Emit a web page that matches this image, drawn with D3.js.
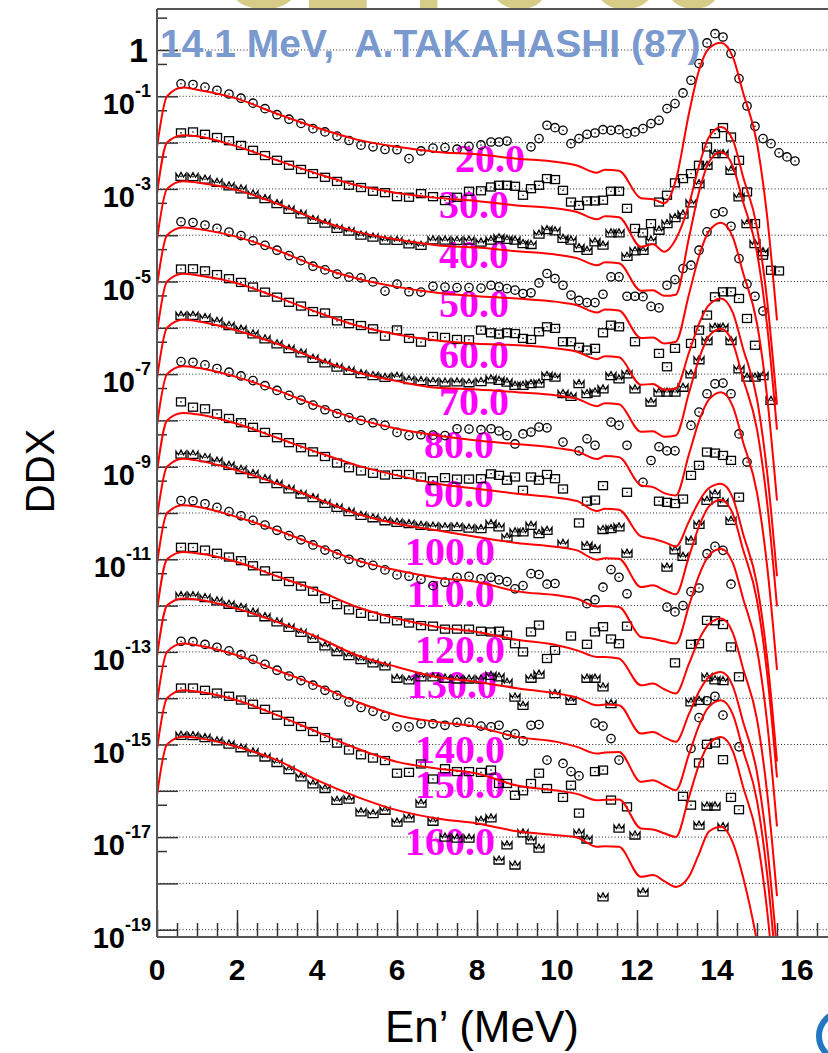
<!DOCTYPE html>
<html>
<head>
<meta charset="utf-8">
<script src="https://cdn.jsdelivr.net/npm/d3@7"></script>
<style>
  body { margin: 0; background: #fff; }
  svg { display: block; }
</style>
</head>
<body>
<svg id="chart" width="828" height="1053"></svg>
<script>
// scattering angles (deg) and the offset factor used to stack the curves
const angles = [20, 30, 40, 50, 60, 70, 80, 90, 100, 110, 120, 130, 140, 150, 160];
const offsets = [1, 1e-1, 1e-2, 1e-3, 1e-4, 1e-5, 1e-6, 1e-7, 1e-8, 1e-9, 1e-10, 1e-11, 1e-12, 1e-13, 1e-14];

// calculation (red lines), unscaled DDX
const calcEnergy = [0, 0.25, 0.65, 1, 2, 3, 4, 5, 6, 7, 8, 9, 10, 10.5, 11.0, 11.2, 11.55, 12.1, 12.4, 12.68, 12.97, 13.3, 13.55, 13.8, 14.1, 14.4, 14.65, 15.0, 15.25, 15.5];
const calc20 = [0.0079, 0.1, 0.155, 0.139, 0.089, 0.042, 0.021, 0.0116, 0.0081, 0.0063, 0.0056, 0.0045, 0.0038, 0.0032, 0.00224, 0.0026, 0.00248, 0.00063, 0.0006, 0.00049, 0.00153, 0.043, 0.365, 1.09, 1.44, 0.695, 0.122, 0.0097, 0.00027, 1.45e-6];
const calc30 = [0.0079, 0.1, 0.144, 0.137, 0.083, 0.0415, 0.0214, 0.012, 0.0082, 0.0064, 0.0055, 0.0044, 0.00376, 0.00318, 0.00221, 0.00256, 0.00244, 0.00056, 0.00064, 0.00044, 0.00082, 0.00466, 0.0313, 0.132, 0.218, 0.112, 0.0185, 0.00146, 4.1e-5, 2.2e-7];
const calc40 = [0.0079, 0.1, 0.147, 0.137, 0.094, 0.0482, 0.0218, 0.0118, 0.0081, 0.0061, 0.0054, 0.0045, 0.0038, 0.0032, 0.00224, 0.0026, 0.00248, 0.00063, 0.00065, 0.00049, 0.00052, 0.0089, 0.086, 0.383, 0.63, 0.303, 0.0532, 0.0042, 0.000117, 6.3e-7];
const calc50 = [0.0079, 0.1, 0.147, 0.137, 0.092, 0.0474, 0.0214, 0.0116, 0.00766, 0.00569, 0.00482, 0.00429, 0.00363, 0.00308, 0.00214, 0.00248, 0.00236, 0.0006, 0.00062, 0.00046, 0.0005, 0.00532, 0.0352, 0.122, 0.185, 0.089, 0.0156, 0.00124, 3.4e-5, 1.86e-7];
const calc60 = [0.0079, 0.1, 0.147, 0.137, 0.092, 0.0459, 0.0218, 0.0112, 0.00716, 0.00532, 0.00451, 0.00422, 0.00357, 0.00303, 0.0021, 0.00244, 0.00232, 0.00059, 0.00061, 0.00046, 0.00049, 0.00293, 0.0122, 0.0313, 0.043, 0.0207, 0.00363, 0.000288, 8.0e-6, 4.3e-8];
const calc70 = [0.0079, 0.1, 0.149, 0.139, 0.0875, 0.0451, 0.0214, 0.011, 0.00705, 0.00506, 0.00466, 0.00407, 0.00346, 0.00293, 0.00203, 0.00236, 0.00224, 0.000568, 0.000586, 0.000443, 0.000473, 0.00394, 0.0214, 0.066, 0.095, 0.0459, 0.00805, 0.00064, 1.77e-5, 9.6e-8];
const calc80 = [0.0079, 0.1, 0.147, 0.137, 0.0861, 0.0444, 0.021, 0.0108, 0.00659, 0.00473, 0.00369, 0.00308, 0.00252, 0.00214, 0.00146, 0.0017, 0.00161, 0.000394, 0.000362, 0.000269, 0.000239, 0.00187, 0.00966, 0.0284, 0.0408, 0.0197, 0.00346, 0.000274, 7.6e-6, 4.1e-8];
const calc90 = [0.0079, 0.1, 0.144, 0.135, 0.0847, 0.0423, 0.0207, 0.0107, 0.00649, 0.00429, 0.00334, 0.00261, 0.00214, 0.00181, 0.0011, 0.00124, 0.00118, 0.000313, 0.000278, 0.000235, 0.00019, 0.00066, 0.00178, 0.00346, 0.00429, 0.00207, 0.000362, 2.87e-5, 8.0e-7, 4.3e-9];
const calc100 = [0.0079, 0.1, 0.149, 0.137, 0.0834, 0.043, 0.0204, 0.00966, 0.00587, 0.00422, 0.00303, 0.00224, 0.00184, 0.00156, 0.00098, 0.00106, 0.00103, 0.000252, 0.000274, 0.000217, 0.000175, 0.00116, 0.00514, 0.0139, 0.0194, 0.00933, 0.00164, 0.00013, 3.6e-6, 1.95e-8];
const calc110 = [0.0079, 0.1, 0.147, 0.137, 0.082, 0.0423, 0.02, 0.0095, 0.00578, 0.00401, 0.00324, 0.00203, 0.00167, 0.00141, 0.00096, 0.00098, 0.00093, 0.00021, 0.000193, 0.000169, 0.000151, 0.000998, 0.00451, 0.0122, 0.017, 0.00818, 0.00144, 0.000114, 3.2e-6, 1.7e-8];
const calc120 = [0.0079, 0.1, 0.144, 0.135, 0.0875, 0.043, 0.0214, 0.00933, 0.00524, 0.00346, 0.0027, 0.00184, 0.00139, 0.00108, 0.00078, 0.00078, 0.00072, 0.00019, 0.000207, 0.000156, 0.000126, 0.000558, 0.00184, 0.00401, 0.00524, 0.00252, 0.000443, 3.5e-5, 9.7e-7, 5.3e-9];
const calc130 = [0.0079, 0.1, 0.142, 0.135, 0.0861, 0.0444, 0.021, 0.00845, 0.00473, 0.00288, 0.00224, 0.00164, 0.00126, 0.00103, 0.000703, 0.000728, 0.000703, 0.000172, 0.000187, 0.000143, 0.000114, 0.000457, 0.00139, 0.00288, 0.00369, 0.00178, 0.000313, 2.47e-5, 6.9e-7, 3.7e-9];
const calc140 = [0.0079, 0.1, 0.151, 0.139, 0.0847, 0.0402, 0.019, 0.00832, 0.00429, 0.00308, 0.0024, 0.00146, 0.00114, 0.000887, 0.000637, 0.00067, 0.000692, 0.000156, 0.000169, 0.000132, 0.000103, 0.000617, 0.00256, 0.00659, 0.00904, 0.00436, 0.000764, 6.05e-5, 1.69e-6, 9.1e-9];
const calc150 = [0.0079, 0.1, 0.149, 0.139, 0.0906, 0.043, 0.0188, 0.00818, 0.00422, 0.00303, 0.00236, 0.0013, 0.00101, 0.000859, 0.000627, 0.000637, 0.000647, 0.000153, 0.000146, 0.000121, 0.000101, 0.00074, 0.00363, 0.0103, 0.0146, 0.00705, 0.00124, 9.8e-5, 2.73e-6, 1.47e-8];
const calc160 = [0.0079, 0.1, 0.147, 0.139, 0.0891, 0.0459, 0.017, 0.00741, 0.00382, 0.00252, 0.00197, 0.00134, 0.0011, 0.00098, 0.000617, 0.000637, 0.000617, 0.000139, 0.000151, 0.000112, 8.4e-5, 0.000141, 0.000436, 0.00132, 0.00167, 0.00074, 0.000139, 5.6e-6, 3.1e-7, 1.7e-9];

// measurement (A.TAKAHASHI 87), unscaled DDX, null = no point
const expEnergy = [0.6, 0.9, 1.2, 1.5, 1.8, 2.1, 2.4, 2.7, 3.0, 3.3, 3.6, 3.9, 4.2, 4.5, 4.8, 5.1, 5.4, 5.7, 6.0, 6.3, 6.6, 6.9, 7.2, 7.5, 7.8, 8.1,
  8.35, 8.55, 8.75, 8.95, 9.15, 9.35, 9.55, 9.75, 9.95, 10.15, 10.35, 10.55, 10.75, 10.95, 11.15, 11.35, 11.55, 11.75, 11.95, 12.15, 12.35, 12.55, 12.75, 12.95,
  13.15, 13.35, 13.55, 13.75, 13.95, 14.15, 14.35, 14.55, 14.75, 14.95, 15.15, 15.35, 15.55, 15.75, 15.95];
const exp20 = [0.186, 0.18, 0.158, 0.135, 0.112, 0.091, 0.071, 0.054, 0.04, 0.032, 0.026, 0.02, 0.017, 0.0138, 0.0111, 0.0088, 0.0081, 0.0071, 0.007, 0.0045, 0.0066, 0.0076, 0.0078, 0.0072, 0.0083, 0.0089,
  0.0103, 0.0103, 0.0108, null, null, 0.0081, 0.0122, 0.0237, 0.021, 0.0184, 0.0095, 0.0122, 0.0151, 0.0161, 0.019, 0.0184, 0.019, 0.0156, 0.017, 0.02, 0.0257, 0.0303, 0.0542, 0.0695,
  0.118, 0.222, 0.508, 1.42, 2.25, 1.91, 0.836, 0.241, 0.0618, 0.0225, 0.0122, 0.0095, 0.006, 0.0049, 0.004];
const exp30 = [0.162, 0.17, 0.151, 0.129, 0.11, 0.087, 0.068, 0.0525, 0.0415, 0.0324, 0.0263, 0.0214, 0.0178, 0.0145, 0.012, 0.0107, 0.0089, 0.0083, 0.0068, 0.0066, 0.0079, 0.0068, 0.0056, 0.0066, 0.0089, 0.0091,
  0.011, 0.012, 0.012, 0.0114, 0.0073, 0.0101, 0.012, 0.0167, 0.0159, 0.0093, 0.0052, 0.0044, 0.0055, 0.0055, 0.0057, 0.0089, 0.0089, 0.0038, 0.0014, 0.00112, 0.00178, 0.0052, 0.0073, 0.0135,
  0.0167, 0.0214, 0.0324, 0.0805, 0.156, 0.211, 0.132, 0.0415, 0.0086, 0.00178, 0.00037, 0.000175, 0.000169, null, null];
const exp40 = [0.186, 0.184, 0.162, 0.138, 0.116, 0.1, 0.0776, 0.0617, 0.0482, 0.0363, 0.0288, 0.0219, 0.0182, 0.0141, 0.0123, 0.01, 0.0091, 0.0078, 0.0077, 0.0065, 0.006, 0.0079, 0.0078, 0.0077, 0.0078, 0.0071,
  0.0078, 0.0088, 0.0081, 0.0078, 0.0066, 0.0063, 0.0105, 0.0132, 0.0124, 0.0085, 0.0078, 0.0054, 0.0047, 0.0072, 0.0061, 0.0112, 0.0112, 0.0035, 0.0046, 0.0047, 0.0078, 0.0128, 0.0178, 0.024,
  0.0284, 0.0499, 0.13, 0.324, 0.579, 0.579, 0.253, 0.0672, 0.0178, 0.0066, 0.0044, null, null, null, null];
const exp50 = [0.195, 0.188, 0.166, 0.141, 0.117, 0.098, 0.0759, 0.0603, 0.0474, 0.0363, 0.0282, 0.0214, 0.0178, 0.0145, 0.0124, 0.012, 0.0098, 0.0062, 0.0088, 0.006, 0.0059, 0.0079, 0.0076, 0.0074, 0.0074, 0.0072,
  0.0083, 0.0077, 0.007, 0.0065, 0.0055, 0.0057, 0.0093, 0.0149, 0.0116, 0.0083, 0.0051, 0.0039, 0.0035, 0.0035, 0.0053, 0.0126, 0.0126, 0.0048, 0.0048, 0.0047, 0.0029, 0.0027, 0.0083, 0.011,
  0.019, 0.0225, 0.0474, 0.118, 0.294, 0.319, 0.156, 0.0313, 0.0088, 0.0048, 0.0023, null, null, null, null];
const exp60 = [0.186, 0.188, 0.17, 0.141, 0.115, 0.0955, 0.0759, 0.0589, 0.0459, 0.0355, 0.0295, 0.0224, 0.0209, 0.0141, 0.0123, 0.0112, 0.0095, 0.0066, 0.009, 0.0059, 0.0049, 0.0065, 0.0062, 0.0056, 0.0055, 0.0089,
  0.0078, 0.0073, 0.0078, 0.0075, 0.0059, 0.0056, 0.0082, 0.0105, 0.0097, 0.005, 0.005, 0.0038, 0.0033, 0.0036, 0.0078, 0.0114, 0.0105, null, 0.005, null, null, 0.0028, 0.00144, 0.0036,
  null, 0.0046, 0.0089, 0.0188, 0.0467, 0.0598, 0.0598, 0.043, 0.0159, 0.0042, null, null, null, null, null];
const exp70 = [0.186, 0.186, 0.166, 0.138, 0.112, 0.0933, 0.0741, 0.0575, 0.0451, 0.0355, 0.0288, 0.0219, 0.0174, 0.0141, 0.012, 0.0102, 0.0093, 0.0085, 0.0089, 0.0076, 0.0072, 0.0069, 0.0067, 0.0068, 0.0065, 0.0069,
  0.0079, 0.0073, 0.0067, 0.0057, 0.0057, 0.0062, 0.0064, 0.0093, 0.0086, 0.0038, 0.0033, 0.0062, 0.0038, 0.0041, 0.0048, 0.0093, 0.0079, 0.0101, 0.0048, null, 0.0025, 0.0041, 0.0041, 0.0041,
  0.0052, 0.0101, 0.0204, 0.0532, 0.103, 0.103, 0.0532, 0.013, 0.0086, 0.0086, 0.0093, 0.0027, null, null, null];
const exp80 = [0.186, 0.18, 0.158, 0.132, 0.11, 0.0912, 0.0724, 0.0562, 0.0444, 0.0347, 0.0275, 0.0214, 0.017, 0.0141, 0.0115, 0.01, 0.0089, 0.0078, 0.0055, 0.0047, 0.0049, 0.0048, 0.0047, 0.0066, 0.0065, 0.0063,
  0.0066, 0.0059, 0.0047, 0.0031, 0.0051, 0.0056, 0.0072, 0.0069, null, 0.0034, null, 0.0022, 0.004, 0.0029, null, 0.0092, 0.0078, 0.0029, null, 0.00046, 0.00136, 0.0027, 0.0022, 0.0022,
  null, 0.0078, 0.0151, 0.0376, 0.0618, 0.064, 0.0376, 0.0051, 0.00126, null, null, null, null, null, null];
const exp90 = [0.251, 0.193, 0.178, 0.138, 0.11, 0.0891, 0.0708, 0.055, 0.0423, 0.0331, 0.0257, 0.0209, 0.0166, 0.012, 0.0095, 0.0081, 0.0072, 0.0066, 0.0068, 0.0068, 0.006, 0.005, 0.0058, 0.0054, 0.0054, 0.0055,
  0.007, 0.0065, 0.0051, 0.006, 0.0031, 0.006, 0.0051, 0.0068, 0.0055, 0.0033, null, 0.00061, 0.0018, 0.0019, 0.0039, null, null, 0.0028, null, null, null, 0.0018, 0.0017, 0.0016,
  0.002, 0.0065, 0.0107, 0.0207, 0.0197, 0.0175, 0.0137, 0.0022, null, null, null, null, null, null, null];
const exp100 = [0.186, 0.184, 0.158, 0.132, 0.107, 0.0871, 0.0708, 0.055, 0.043, 0.0331, 0.0257, 0.0214, 0.0162, 0.0132, 0.0107, 0.0089, 0.0079, 0.0068, 0.0063, 0.0059, 0.0054, 0.0052, 0.005, 0.0051, 0.0047, 0.0046,
  0.0059, 0.005, 0.003, 0.0039, 0.0039, 0.0054, 0.0036, 0.0042, null, 0.0022, null, null, 0.002, 0.0017, 0.0044, 0.0046, 0.005, 0.00136, null, null, null, null, 0.00068, 0.0016,
  0.00116, 0.0026, 0.0057, 0.0188, 0.0261, 0.0173, 0.0069, null, null, null, null, null, null, null, null];
const exp110 = [0.186, 0.184, 0.158, 0.132, 0.107, 0.0871, 0.0692, 0.055, 0.0423, 0.0324, 0.0263, 0.0204, 0.0158, 0.0129, 0.01, 0.0085, 0.0074, 0.0059, 0.0046, 0.0043, 0.0037, 0.0027, 0.0032, 0.0041, 0.0043, 0.0038,
  0.0041, 0.0036, 0.0033, 0.0023, 0.0027, 0.0049, 0.0047, 0.0029, 0.003, null, null, null, 0.0011, 0.00134, 0.0025, 0.006, 0.0041, 0.0018, null, null, null, null, 0.00093, 0.00073,
  0.001, 0.002, 0.0024, 0.0132, 0.019, 0.0156, 0.0029, null, null, null, null, null, null, null, null];
const exp120 = [0.182, 0.18, 0.158, 0.135, 0.112, 0.0933, 0.0724, 0.0562, 0.043, 0.0331, 0.0263, 0.0204, 0.0141, 0.0105, 0.0081, 0.0068, 0.0059, 0.0052, 0.0047, 0.0042, 0.0037, 0.0036, 0.0031, 0.0031, 0.0031, 0.0028,
  0.0027, 0.0028, 0.0023, 0.0015, 0.001, 0.0027, 0.0038, 0.00072, 0.00108, null, 0.0022, null, 0.00146, 0.0027, 0.0035, 0.0019, 0.0015, 0.0036, null, null, null, null, null, 0.00058,
  null, 0.00146, 0.0015, 0.0048, 0.0047, 0.0039, 0.00128, 0.00029, null, null, null, null, null, null, null];
const exp130 = [0.164, 0.164, 0.148, 0.126, 0.107, 0.0912, 0.0724, 0.0575, 0.0444, 0.0339, 0.0263, 0.0195, 0.0135, 0.0102, 0.0083, 0.0068, 0.0058, 0.005, 0.0027, 0.0025, 0.0029, 0.0029, 0.0027, 0.0026, 0.0026, 0.0026,
  0.0031, 0.0029, 0.0022, 0.00106, 0.0007, 0.0027, 0.0033, null, 0.00126, null, 0.0009, null, 0.0027, 0.0027, 0.00175, 0.00076, null, null, null, null, null, null, null, null,
  null, 0.00083, 0.0009, 0.0029, 0.0025, 0.0024, null, null, null, null, null, null, null, null, null];
const exp140 = [0.17, 0.166, 0.145, 0.126, 0.105, 0.0871, 0.0692, 0.0537, 0.0402, 0.0302, 0.024, 0.0191, 0.0148, 0.0115, 0.0083, 0.0063, 0.0052, 0.0041, 0.0024, 0.0024, 0.0028, 0.0028, 0.0026, 0.003, 0.003, 0.0025,
  0.0024, 0.0026, 0.0016, 0.0017, 0.0012, 0.0026, 0.0027, 0.00046, null, 0.00039, 0.00026, 0.00021, null, 0.0029, 0.0025, 0.00134, 0.00046, null, null, null, null, null, null, null,
  null, 0.00082, 0.0038, 0.0088, 0.011, 0.0043, null, 0.00089, null, null, null, null, null, null, null];
const exp150 = [0.166, 0.166, 0.148, 0.129, 0.11, 0.0912, 0.0741, 0.0575, 0.043, 0.0316, 0.0245, 0.0191, 0.0141, 0.0107, 0.0076, 0.006, 0.0051, 0.0045, 0.0024, 0.0025, 0.0038, 0.0018, 0.003, 0.0026, 0.0026, 0.0025,
  0.0028, 0.00144, 0.00144, 0.0008, 0.001, 0.00144, 0.0024, 0.00112, null, 0.00072, 0.00132, 0.00033, null, 0.0026, 0.0028, 0.00063, null, 0.00045, null, null, null, null, null, null,
  0.00076, 0.00049, 0.004, 0.0101, 0.0108, 0.0047, 0.00072, 0.00039, null, null, null, null, null, null, null];
const exp160 = [0.158, 0.155, 0.141, 0.12, 0.102, 0.0851, 0.0692, 0.0537, 0.0409, 0.0288, 0.02, 0.0141, 0.0112, 0.0062, 0.0066, 0.0035, 0.0032, 0.0038, 0.0021, 0.0026, 0.0054, 0.0022, 0.001, 0.00095, 0.00095, 0.0023,
  0.0026, 0.00032, 0.00068, 0.00025, 0.00123, 0.00087, 0.00058, null, null, null, null, 0.00123, 0.00091, null, 5.1e-5, null, 0.00157, null, 0.00111, 6.5e-5, null, null, null, null,
  null, null, 0.00182, 0.0047, 0.0047, 0.00168, null, null, null, null, null, null, null, null, null];

// angle labels, anchored at (energy, displayed DDX)
const labelEnergy = [7.45, 7.05, 7.05, 7.05, 7.05, 7.05, 6.675, 6.675, 6.2, 6.25, 6.45, 6.25, 6.45, 6.45, 6.2];
const labelDDX = [2.3e-3, 2.3e-4, 2.0e-5, 1.7e-6, 1.35e-7, 1.3e-8, 1.55e-9, 1.35e-10, 7.6e-12, 9.3e-13, 5.8e-14, 1.0e-14, 4.0e-16, 6.9e-17, 4.1e-18];

const xTickLabels = [0, 2, 4, 6, 8, 10, 12, 14, 16];
const yLabelExponents = [0, -1, -3, -5, -7, -9, -11, -13, -15, -17, -19];

const calcSeries = [calc20, calc30, calc40, calc50, calc60, calc70, calc80, calc90, calc100, calc110, calc120, calc130, calc140, calc150, calc160];
const expSeries = [exp20, exp30, exp40, exp50, exp60, exp70, exp80, exp90, exp100, exp110, exp120, exp130, exp140, exp150, exp160];

calcSeries.forEach((s, i) => { if (s.length !== calcEnergy.length) throw new Error('calc ' + angles[i] + ' has ' + s.length); });
expSeries.forEach((s, i) => { if (s.length !== expEnergy.length) throw new Error('exp ' + angles[i] + ' has ' + s.length); });

const W = 828, H = 1053;
const plot = { left: 157, right: 877, top: 9, bottom: 937 };

const x = d3.scaleLinear().domain([0, 18]).range([157, 877]);
const y = d3.scaleLog().domain([1, 1e-19]).range([50, 929.7]);

const svg = d3.select('#chart');
svg.append('rect').attr('width', W).attr('height', H).attr('fill', '#fff');

const sans = '"Liberation Sans", Arial, Helvetica, sans-serif';
const serif = '"Liberation Serif", "Times New Roman", Times, serif';

// big title cut off at the top of the page
svg.append('text')
  .attr('x', 218).attr('y', 7.5)
  .attr('font-family', sans).attr('font-weight', 'bold').attr('font-size', 120)
  .attr('fill', '#d6cc88')
  .text('C2');
svg.append('text')
  .attr('x', 412).attr('y', 7.5)
  .attr('font-family', sans).attr('font-weight', 'bold').attr('font-size', 120)
  .attr('fill', '#d6cc88')
  .text('Fe-56');

svg.append('defs').append('clipPath').attr('id', 'plotClip')
  .append('rect')
  .attr('x', plot.left).attr('y', plot.top)
  .attr('width', plot.right - plot.left).attr('height', plot.bottom - plot.top);

// dotted grid at every decade
const decades = d3.range(0, -20, -1).map(e => Math.pow(10, e));
svg.append('g').selectAll('line')
  .data(decades)
  .enter().append('line')
  .attr('x1', plot.left).attr('x2', plot.right)
  .attr('y1', d => y(d)).attr('y2', d => y(d))
  .attr('stroke', '#222').attr('stroke-width', 1)
  .attr('stroke-dasharray', '1,2.2');

// axis ticks (inside the frame)
const tickColor = '#333';
const yMajor = d3.axisRight(y).tickValues(decades).tickSize(21).tickFormat('');
const halfDecades = d3.range(0, -19, -1).map(e => 5 * Math.pow(10, e));
const yMinor = d3.axisRight(y).tickValues(halfDecades).tickSize(10).tickFormat('');
[yMajor, yMinor].forEach(ax => {
  svg.append('g').attr('transform', 'translate(' + plot.left + ',0)')
    .call(ax)
    .call(g => g.select('.domain').remove())
    .call(g => g.selectAll('line').attr('stroke', tickColor).attr('stroke-width', 1.5));
});

const xMajor = d3.axisTop(x).tickValues(d3.range(0, 19, 2)).tickSize(27).tickFormat('');
const xMinor = d3.axisTop(x).tickValues(d3.range(0.5, 18, 0.5)).tickSize(14).tickFormat('');
[xMajor, xMinor].forEach(ax => {
  svg.append('g').attr('transform', 'translate(0,' + plot.bottom + ')')
    .call(ax)
    .call(g => g.select('.domain').remove())
    .call(g => g.selectAll('line').attr('stroke', tickColor).attr('stroke-width', 1.5));
});

// angle labels
svg.append('g').selectAll('text')
  .data(angles)
  .enter().append('text')
  .attr('x', (d, i) => x(labelEnergy[i]))
  .attr('y', (d, i) => y(labelDDX[i]))
  .attr('font-family', serif).attr('font-weight', 'bold').attr('font-size', 40)
  .attr('fill', '#ff00ff')
  .text(d => d.toFixed(1));

// measured points
const dataLayer = svg.append('g').attr('clip-path', 'url(#plotClip)');
const crown = 'M-5,4H5V-3L2.5,0.6L0,-4L-2.5,0.6L-5,-3Z';

expSeries.forEach((vals, i) => {
  const pts = expEnergy.map((e, j) => [e, vals[j]]).filter(p => p[1] !== null)
    .map(p => [x(p[0]), y(p[1] * offsets[i])]);
  const g = dataLayer.append('g').attr('fill', 'none').attr('stroke', '#000').attr('stroke-width', 1.3);
  const kind = i % 3;
  const m = g.selectAll('g').data(pts).enter().append('g')
    .attr('transform', d => 'translate(' + d[0] + ',' + d[1] + ')');
  if (kind === 0) {
    m.append('circle').attr('r', 4.2);
  } else if (kind === 1) {
    m.append('rect').attr('x', -4.5).attr('y', -4).attr('width', 9).attr('height', 8);
  } else {
    m.append('path').attr('d', crown);
  }
  m.append('circle').attr('r', 0.8).attr('fill', '#000').attr('stroke', 'none');
});

// calculation lines
const line = d3.line()
  .x(d => x(d[0]))
  .y(d => y(d[1]))
  .curve(d3.curveMonotoneX);

calcSeries.forEach((vals, i) => {
  dataLayer.append('path')
    .attr('d', line(calcEnergy.map((e, j) => [e, vals[j] * offsets[i]])))
    .attr('fill', 'none')
    .attr('stroke', '#ff0000')
    .attr('stroke-width', 2);
});

// frame
const frameColor = '#555';
svg.append('line').attr('x1', plot.left).attr('x2', plot.left).attr('y1', plot.top).attr('y2', plot.bottom)
  .attr('stroke', frameColor).attr('stroke-width', 2);
svg.append('line').attr('x1', plot.left).attr('x2', plot.right).attr('y1', plot.top).attr('y2', plot.top)
  .attr('stroke', frameColor).attr('stroke-width', 2);
svg.append('line').attr('x1', plot.left).attr('x2', plot.right).attr('y1', plot.bottom).attr('y2', plot.bottom)
  .attr('stroke', frameColor).attr('stroke-width', 2);

// title inside the frame
svg.append('text')
  .attr('x', 160).attr('y', 57)
  .attr('font-family', sans).attr('font-weight', 'bold').attr('font-size', 39)
  .attr('fill', '#7a99cf')
  .style('white-space', 'pre')
  .text('14.1 MeV,  A.TAKAHASHI (87)');

// y labels
yLabelExponents.forEach(e => {
  const yy = y(Math.pow(10, e));
  if (e === 0) {
    svg.append('text').attr('x', 148).attr('y', yy + 12)
      .attr('text-anchor', 'end')
      .attr('font-family', sans).attr('font-weight', 'bold').attr('font-size', 34)
      .text('1');
  } else {
    const t = svg.append('text').attr('x', 151).attr('y', yy + 18)
      .attr('text-anchor', 'end')
      .attr('font-family', sans).attr('font-weight', 'bold');
    t.append('tspan').attr('font-size', 29).text('10');
    t.append('tspan').attr('font-size', 18).attr('dy', -17).text(String(e));
  }
});

// x labels
svg.append('g').selectAll('text')
  .data(xTickLabels)
  .enter().append('text')
  .attr('x', d => x(d)).attr('y', 980)
  .attr('text-anchor', 'middle')
  .attr('font-family', sans).attr('font-weight', 'bold').attr('font-size', 30)
  .text(d => d);

// axis titles
svg.append('text')
  .attr('x', 482).attr('y', 1042)
  .attr('text-anchor', 'middle')
  .attr('font-family', sans).attr('font-size', 44)
  .text('En\u2019 (MeV)');

svg.append('text')
  .attr('transform', 'translate(54,471) rotate(-90)')
  .attr('text-anchor', 'middle')
  .attr('font-family', sans).attr('font-size', 40)
  .text('DDX');

// logo edge in the bottom right corner
svg.append('circle')
  .attr('cx', 843).attr('cy', 1036).attr('r', 24)
  .attr('fill', 'none').attr('stroke', '#2277c0').attr('stroke-width', 6);
</script>
</body>
</html>
